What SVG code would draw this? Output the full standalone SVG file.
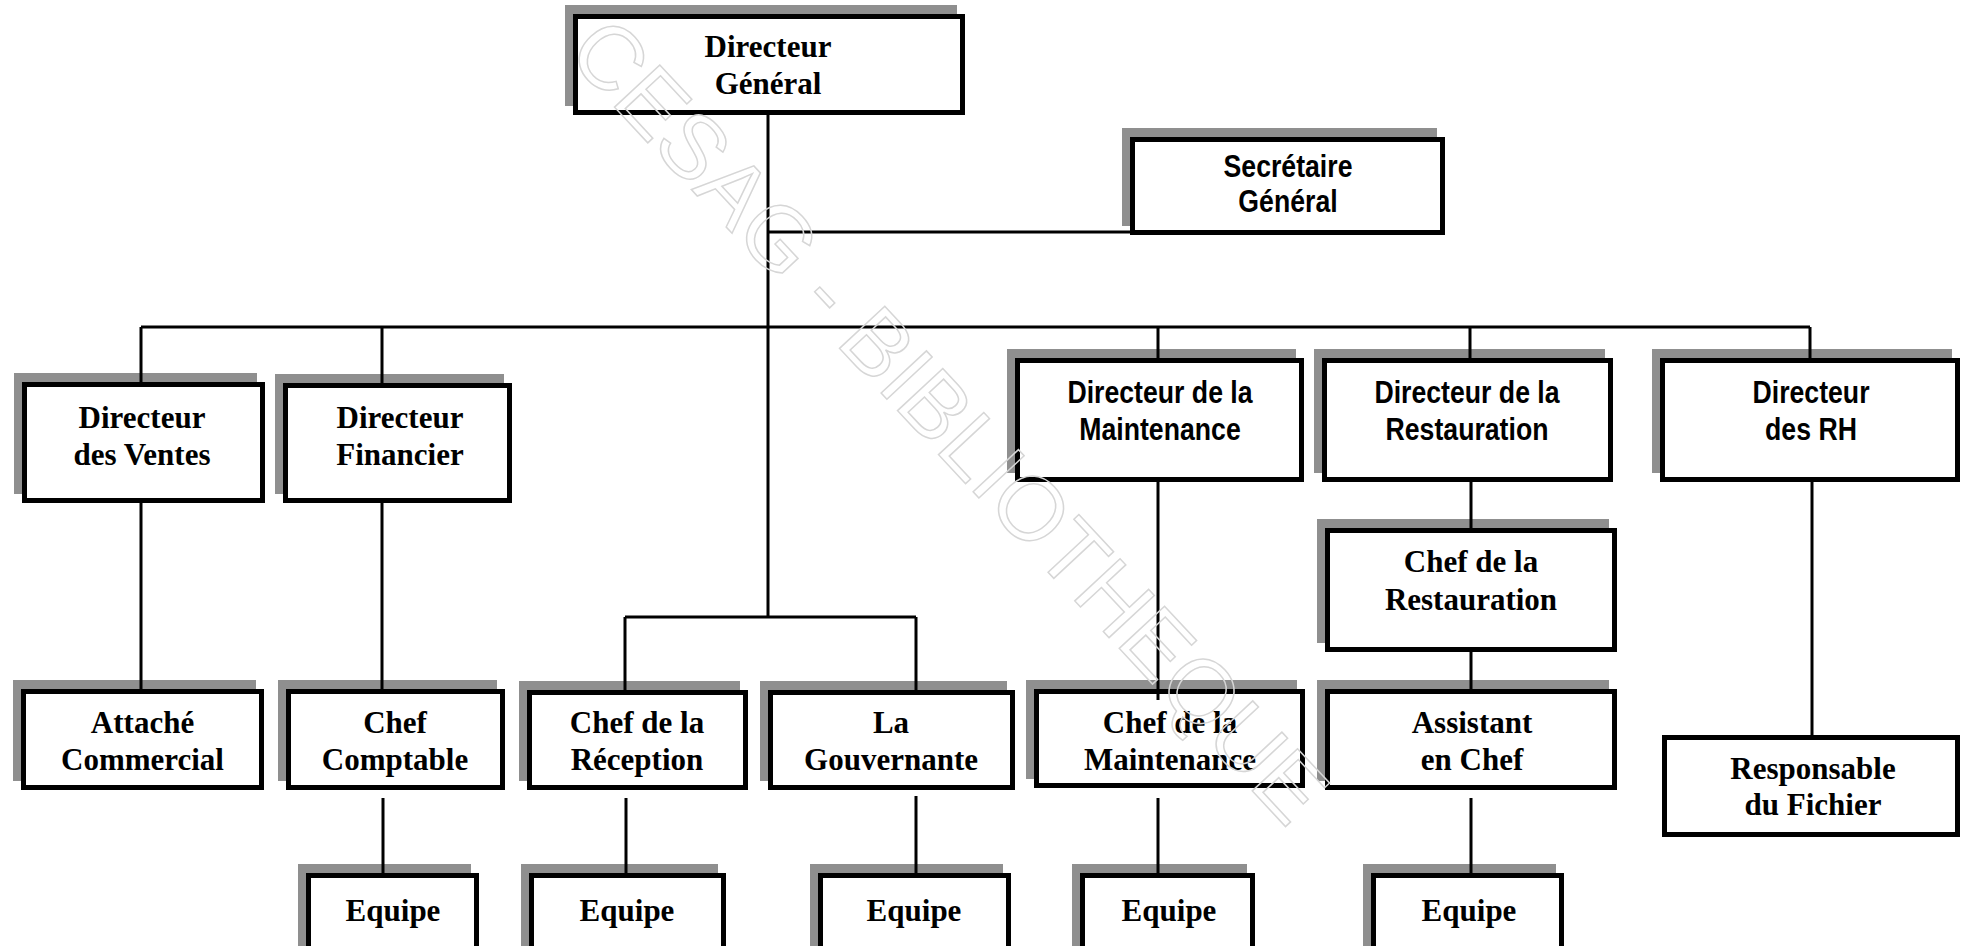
<svg xmlns="http://www.w3.org/2000/svg" width="1962" height="946" viewBox="0 0 1962 946">
<style>
.shadow{fill:#8f8f8f;stroke:none}
.box{fill:#ffffff;stroke:#000000;stroke-width:5}
.serif{font-family:"Liberation Serif","Times New Roman",serif;font-weight:bold;font-size:31px;fill:#000000;text-anchor:middle}
.sans{font-family:"Liberation Sans",Arial,sans-serif;font-weight:bold;font-size:31px;fill:#000000;text-anchor:middle}
.conn{fill:none;stroke:#000000;stroke-width:3}
.wm{font-family:"Liberation Sans",Arial,sans-serif;font-size:90px;fill:none;stroke:#d6d6d6;stroke-width:1.5;text-anchor:middle}
</style>
<rect x="0" y="0" width="1962" height="946" fill="#ffffff"/>

<g id="node-dg">
<rect class="shadow" x="565" y="5" width="392" height="101"/>
<rect class="box" x="575.5" y="16.5" width="387" height="96"/>
<text class="serif"><tspan x="768" y="57">Directeur</tspan><tspan x="768" y="94">Général</tspan></text>
</g>

<g id="node-sg">
<rect class="shadow" x="1122" y="128" width="315" height="98"/>
<rect class="box" x="1132.5" y="139.5" width="310" height="93"/>
<text class="sans" transform="translate(1288,0) scale(0.86,1)"><tspan x="0" y="177">Secrétaire</tspan><tspan x="0" y="212">Général</tspan></text>
</g>

<g id="node-dir-ventes">
<rect class="shadow" x="14" y="373" width="243" height="121"/>
<rect class="box" x="24.5" y="384.5" width="238" height="116"/>
<text class="serif"><tspan x="142" y="428">Directeur</tspan><tspan x="142" y="465">des Ventes</tspan></text>
</g>

<g id="node-dir-financier">
<rect class="shadow" x="275" y="374" width="229" height="120"/>
<rect class="box" x="285.5" y="385.5" width="224" height="115"/>
<text class="serif"><tspan x="400" y="428">Directeur</tspan><tspan x="400" y="465">Financier</tspan></text>
</g>

<g id="node-dir-maintenance">
<rect class="shadow" x="1007" y="349" width="289" height="124"/>
<rect class="box" x="1017.5" y="360.5" width="284" height="119"/>
<text class="sans" transform="translate(1160,0) scale(0.86,1)"><tspan x="0" y="403">Directeur de la</tspan><tspan x="0" y="440">Maintenance</tspan></text>
</g>

<g id="node-dir-restauration">
<rect class="shadow" x="1314" y="349" width="291" height="124"/>
<rect class="box" x="1324.5" y="360.5" width="286" height="119"/>
<text class="sans" transform="translate(1467,0) scale(0.86,1)"><tspan x="0" y="403">Directeur de la</tspan><tspan x="0" y="440">Restauration</tspan></text>
</g>

<g id="node-dir-rh">
<rect class="shadow" x="1652" y="349" width="300" height="124"/>
<rect class="box" x="1662.5" y="360.5" width="295" height="119"/>
<text class="sans" transform="translate(1811,0) scale(0.86,1)"><tspan x="0" y="403">Directeur</tspan><tspan x="0" y="440">des RH</tspan></text>
</g>

<g id="node-chef-restauration">
<rect class="shadow" x="1317" y="519" width="292" height="124"/>
<rect class="box" x="1327.5" y="530.5" width="287" height="119"/>
<text class="serif"><tspan x="1471" y="572">Chef de la</tspan><tspan x="1471" y="610">Restauration</tspan></text>
</g>

<g id="node-attache">
<rect class="shadow" x="13" y="680" width="243" height="101"/>
<rect class="box" x="23.5" y="691.5" width="238" height="96"/>
<text class="serif"><tspan x="142.5" y="733">Attaché</tspan><tspan x="142.5" y="770">Commercial</tspan></text>
</g>

<g id="node-chef-comptable">
<rect class="shadow" x="278" y="680" width="219" height="101"/>
<rect class="box" x="288.5" y="691.5" width="214" height="96"/>
<text class="serif"><tspan x="395" y="733">Chef</tspan><tspan x="395" y="770">Comptable</tspan></text>
</g>

<g id="node-chef-reception">
<rect class="shadow" x="519" y="681" width="221" height="100"/>
<rect class="box" x="529.5" y="692.5" width="216" height="95"/>
<text class="serif"><tspan x="637" y="733">Chef de la</tspan><tspan x="637" y="770">Réception</tspan></text>
</g>

<g id="node-gouvernante">
<rect class="shadow" x="760" y="681" width="247" height="100"/>
<rect class="box" x="770.5" y="692.5" width="242" height="95"/>
<text class="serif"><tspan x="891" y="733">La</tspan><tspan x="891" y="770">Gouvernante</tspan></text>
</g>

<g id="node-chef-maintenance">
<rect class="shadow" x="1026" y="680" width="271" height="99"/>
<rect class="box" x="1036.5" y="691.5" width="266" height="94"/>
<text class="serif"><tspan x="1170" y="733">Chef de la</tspan><tspan x="1170" y="770">Maintenance</tspan></text>
</g>

<g id="node-assistant">
<rect class="shadow" x="1317" y="680" width="292" height="101"/>
<rect class="box" x="1327.5" y="691.5" width="287" height="96"/>
<text class="serif"><tspan x="1472" y="733">Assistant</tspan><tspan x="1472" y="770">en Chef</tspan></text>
</g>

<g id="node-responsable">
<rect class="box" x="1664.5" y="737.5" width="293" height="97"/>
<text class="serif"><tspan x="1813" y="779">Responsable</tspan><tspan x="1813" y="815">du Fichier</tspan></text>
</g>

<g id="node-equipe-comptable">
<rect class="shadow" x="298" y="864" width="173" height="90"/>
<rect class="box" x="308.5" y="875.5" width="168" height="80"/>
<text class="serif" x="393" y="921">Equipe</text>
</g>

<g id="node-equipe-reception">
<rect class="shadow" x="521" y="864" width="197" height="90"/>
<rect class="box" x="531.5" y="875.5" width="192" height="80"/>
<text class="serif" x="627" y="921">Equipe</text>
</g>

<g id="node-equipe-gouvernante">
<rect class="shadow" x="810" y="864" width="193" height="90"/>
<rect class="box" x="820.5" y="875.5" width="188" height="80"/>
<text class="serif" x="914" y="921">Equipe</text>
</g>

<g id="node-equipe-maintenance">
<rect class="shadow" x="1072" y="864" width="175" height="90"/>
<rect class="box" x="1082.5" y="875.5" width="170" height="80"/>
<text class="serif" x="1169" y="921">Equipe</text>
</g>

<g id="node-equipe-restauration">
<rect class="shadow" x="1363" y="864" width="193" height="90"/>
<rect class="box" x="1373.5" y="875.5" width="188" height="80"/>
<text class="serif" x="1469" y="921">Equipe</text>
</g>

<g id="connectors">
<path class="conn" d="M768,115 V617"/>
<path class="conn" d="M768,232 H1130"/>
<path class="conn" d="M141,327 H1810"/>
<path class="conn" d="M141,327 V382 M382,327 V383 M1158,327 V358 M1470,327 V358 M1810,327 V358"/>
<path class="conn" d="M141,503 V689 M382,503 V689"/>
<path class="conn" d="M625,617 H916 M625,617 V690 M916,617 V690"/>
<path class="conn" d="M1158,482 V700"/>
<path class="conn" d="M1471,482 V528 M1471,652 V689"/>
<path class="conn" d="M1812,482 V735"/>
<path class="conn" d="M383,798 V873 M626,798 V873 M916,796 V873 M1158,798 V873 M1471,798 V873"/>
</g>

<g id="watermark">
<text class="wm" transform="translate(950,420) rotate(47)" x="0" y="32">CESAG - BIBLIOTHEQUE</text>
</g>
</svg>
